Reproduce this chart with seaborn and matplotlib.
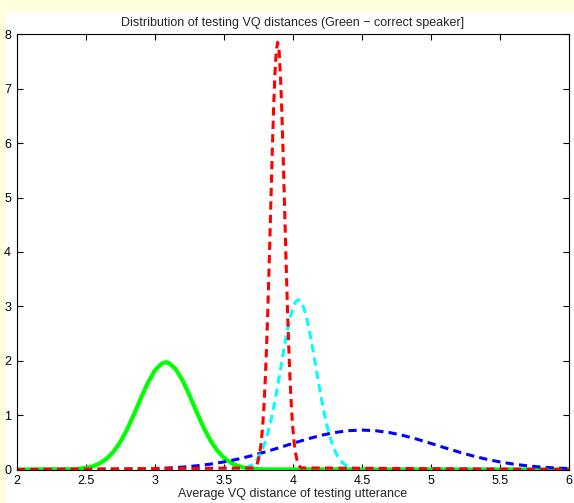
import numpy as np
import pandas as pd
import seaborn as sns
import matplotlib.pyplot as plt
from matplotlib.patches import Rectangle

# values
green_x = [2.0, 2.40, 2.45, 2.50, 2.55, 2.60, 2.65, 2.70, 2.75, 2.80, 2.85, 2.90, 2.95,
           3.00, 3.05, 3.08, 3.10, 3.15, 3.20, 3.25, 3.30, 3.35, 3.40, 3.45, 3.50,
           3.55, 3.60, 3.65, 3.70, 3.75, 3.80, 6.0]
green_y = [0.0, 0.006, 0.014, 0.030, 0.059, 0.111, 0.195, 0.324, 0.505, 0.740, 1.017, 1.314, 1.595,
           1.819, 1.948, 1.970, 1.960, 1.853, 1.645, 1.373, 1.076, 0.792, 0.547, 0.356, 0.217,
           0.125, 0.067, 0.034, 0.016, 0.007, 0.003, 0.0]

red_x = [2.0, 3.72, 3.73, 3.74, 3.75, 3.76, 3.77, 3.78, 3.79, 3.80, 3.81, 3.82, 3.83, 3.84,
         3.85, 3.86, 3.87, 3.88, 3.89, 3.90, 3.91, 3.92, 3.93, 3.94, 3.95, 3.96, 3.97,
         3.98, 3.99, 4.00, 4.01, 4.02, 4.03, 4.04, 4.05, 4.06, 6.0]
red_y = [0.0, 0.029, 0.055, 0.100, 0.176, 0.297, 0.482, 0.753, 1.130, 1.635, 2.272, 3.039,
         3.909, 4.837, 5.757, 6.594, 7.263, 7.699, 7.850, 7.699, 7.263, 6.594, 5.757, 4.837,
         3.909, 3.039, 2.272, 1.635, 1.130, 0.753, 0.482, 0.297, 0.176, 0.100, 0.055, 0.029, 0.0]

cyan_x = [2.0, 3.64, 3.66, 3.68, 3.70, 3.72, 3.74, 3.76, 3.78, 3.80, 3.82, 3.84, 3.86, 3.88,
          3.90, 3.92, 3.94, 3.96, 3.98, 4.00, 4.02, 4.04, 4.06, 4.08, 4.10, 4.12, 4.14,
          4.16, 4.18, 4.20, 4.22, 4.24, 4.26, 4.28, 4.30, 4.32, 4.34, 4.36, 4.38, 4.40,
          4.42, 4.44, 6.0]
cyan_y = [0.0, 0.020, 0.033, 0.053, 0.082, 0.124, 0.183, 0.264, 0.371, 0.508, 0.679, 0.885,
          1.124, 1.393, 1.683, 1.982, 2.277, 2.550, 2.786, 2.967, 3.081, 3.120, 3.081, 2.967,
          2.786, 2.550, 2.277, 1.982, 1.683, 1.393, 1.124, 0.885, 0.679, 0.508, 0.371, 0.264,
          0.183, 0.124, 0.082, 0.053, 0.033, 0.020, 0.0]

blue_x = [2.0, 2.1, 2.2, 2.3, 2.4, 2.5, 2.6, 2.7, 2.8, 2.9, 3.0, 3.1, 3.2, 3.3, 3.4, 3.5,
          3.6, 3.7, 3.8, 3.9, 4.0, 4.1, 4.2, 4.3, 4.4, 4.5, 4.6, 4.7, 4.8, 4.9, 5.0, 5.1,
          5.2, 5.3, 5.4, 5.5, 5.6, 5.7, 5.8, 5.9, 6.0]
blue_y = [0.0, 0.0, 0.0, 0.0003, 0.0005, 0.001, 0.002, 0.003, 0.006, 0.011, 0.018, 0.028,
          0.044, 0.067, 0.098, 0.139, 0.190, 0.252, 0.323, 0.400, 0.480, 0.557, 0.625, 0.679,
          0.713, 0.725, 0.713, 0.679, 0.625, 0.557, 0.480, 0.400, 0.323, 0.252, 0.190, 0.139,
          0.098, 0.067, 0.044, 0.028, 0.018]

x_ticks = [2, 2.5, 3, 3.5, 4, 4.5, 5, 5.5, 6]
x_tick_labels = ['2', '2.5', '3', '3.5', '4', '4.5', '5', '5.5', '6']
y_ticks = [0, 1, 2, 3, 4, 5, 6, 7, 8]
y_tick_labels = ['0', '1', '2', '3', '4', '5', '6', '7', '8']

title = 'Distribution of testing VQ distances (Green \u2212 correct speaker]'
xlabel = 'Average VQ distance of testing utterance'

sns.set_theme(style='ticks')
plt.rcParams['font.family'] = ['Liberation Sans', 'DejaVu Sans']
plt.rcParams['axes.linewidth'] = 0.8

fig = plt.figure(figsize=(5.74, 5.03), dpi=100)
fig.patch.set_facecolor('#ffffe0')
# white figure area, the pale yellow only shows on the left and top edges
bg = Rectangle((6/574, 0), 1, (503-12)/503, transform=fig.transFigure,
               facecolor='white', edgecolor='none', zorder=-10)
fig.add_artist(bg)

ax = fig.add_axes([16.7/574, (503-469.5)/503, (569-16.7)/574, (469.5-34.3)/503])
ax.set_zorder(1)
ax.set_facecolor('white')

dash = (0, (2.7, 1.7))
sns.lineplot(x=green_x, y=green_y, color='#00ff00', linewidth=3.0, ax=ax)
sns.lineplot(x=blue_x, y=blue_y, color='#0000ff', linewidth=2.2, linestyle=dash, ax=ax)
sns.lineplot(x=cyan_x, y=cyan_y, color='#00ffff', linewidth=2.2, linestyle=dash, ax=ax)
sns.lineplot(x=red_x, y=red_y, color='#ff0000', linewidth=2.2, linestyle=dash, ax=ax)

ax.set_xlim(2, 6)
ax.set_ylim(0, 8)
ax.set_xticks(x_ticks)
ax.set_xticklabels(x_tick_labels)
ax.set_yticks(y_ticks)
ax.set_yticklabels(y_tick_labels)
ax.tick_params(direction='in', length=4, width=0.8, top=True, right=True,
               labelsize=9, colors='black', pad=4)
for s in ax.spines.values():
    s.set_visible(True)
    s.set_color('black')

ax.set_title(title, fontsize=9, pad=6)
ax.set_xlabel(xlabel, fontsize=9, labelpad=1)
ax.set_ylabel('')

fig.savefig('out.png', dpi=100, facecolor=fig.get_facecolor())
